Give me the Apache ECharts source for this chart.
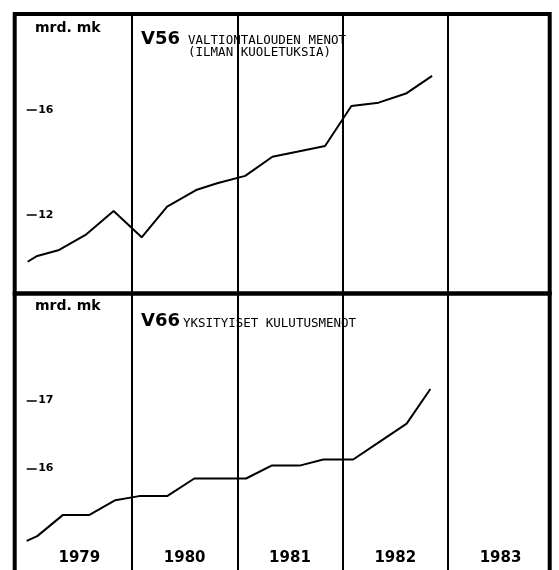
<!DOCTYPE html>
<html>
<head>
<meta charset="utf-8">
<script src="https://cdn.jsdelivr.net/npm/echarts@6/dist/echarts.min.js"></script>
<style>
  html, body { margin: 0; padding: 0; background: #fff; }
  #chart { width: 559px; height: 570px; }
</style>
</head>
<body>
<div id="chart"></div>
<script>
// months counted from the start of 1979
var yearLabels = ['1979', '1980', '1981', '1982', '1983'];
var yearMids = [6, 18, 30, 42, 54];
var yearBreaks = [12, 24, 36, 48];

// V56 valtiontalouden menot, mrd. mk
var monthsV56 = [0.1, 1.2, 3.7, 6.7, 9.9, 13.1, 16.0, 19.3, 21.7, 24.9, 28.0, 30.8, 34.0, 37.0, 40.1, 43.3, 46.2];
var valuesV56 = [10.22, 10.44, 10.67, 11.24, 12.15, 11.15, 12.32, 12.95, 13.21, 13.49, 14.22, 14.41, 14.63, 16.15, 16.28, 16.64, 17.30];
var ticksV56 = [12, 16];

// V66 yksityiset kulutusmenot, mrd. mk
var monthsV66 = [0, 1.2, 4.1, 7.1, 10.1, 12.8, 16.0, 19.1, 22.0, 25.0, 27.9, 31.1, 33.8, 37.2, 40.2, 43.3, 46.0];
var valuesV66 = [14.93, 15.00, 15.31, 15.31, 15.53, 15.59, 15.59, 15.85, 15.85, 15.85, 16.04, 16.04, 16.13, 16.13, 16.39, 16.66, 17.17];
var ticksV66 = [16, 17];

function pairs(xs, ys) {
  return xs.map(function (x, i) { return [x, ys[i]]; });
}

var boldFont = 'DejaVu Sans';

var chart = echarts.init(document.getElementById('chart'));

function yAxisFor(idx, min, max, ticks) {
  return {
    type: 'value',
    gridIndex: idx,
    min: min,
    max: max,
    offset: -9.5,
    axisLine: { show: false },
    splitLine: { show: false },
    axisTick: {
      show: true,
      inside: true,
      length: 10,
      customValues: ticks,
      lineStyle: { color: '#000', width: 1.5 }
    },
    axisLabel: {
      inside: true,
      margin: 14,
      customValues: ticks,
      color: '#000',
      fontFamily: boldFont,
      fontWeight: 'bold',
      fontSize: 11
    }
  };
}

function xAxisFor(idx, showLabels) {
  return {
    type: 'value',
    gridIndex: idx,
    min: -1.37,
    max: 59.6,
    axisLine: { show: false },
    axisTick: { show: false },
    splitLine: { show: false },
    axisLabel: {
      show: showLabels,
      inside: true,
      margin: 14,
      customValues: yearMids,
      color: '#000',
      fontFamily: boldFont,
      fontWeight: 'bold',
      fontSize: 15,
      formatter: function (v) {
        return yearLabels[Math.round((v - 6) / 12)];
      }
    }
  };
}

var yearLines = {
  silent: true,
  symbol: ['none', 'none'],
  label: { show: false },
  lineStyle: { type: 'solid', color: '#000', width: 2 },
  data: yearBreaks.map(function (m) { return { xAxis: m }; })
};

var option = {
  animation: false,
  backgroundColor: '#fff',
  grid: [
    { left: 14.7, right: 9.3, top: 14, height: 279.5, outerBoundsMode: 'none', show: true, borderColor: '#000', borderWidth: 4, backgroundColor: 'transparent' },
    { left: 14.7, right: 9.3, top: 293.5, bottom: -10, outerBoundsMode: 'none', show: true, borderColor: '#000', borderWidth: 4, backgroundColor: 'transparent' }
  ],
  xAxis: [xAxisFor(0, false), xAxisFor(1, true)],
  yAxis: [yAxisFor(0, 9.01, 19.657, ticksV56), yAxisFor(1, 14.353, 18.578, ticksV66)],
  series: [
    {
      name: 'V56',
      type: 'line',
      xAxisIndex: 0,
      yAxisIndex: 0,
      symbol: 'none',
      lineStyle: { color: '#000', width: 2 },
      data: pairs(monthsV56, valuesV56),
      markLine: yearLines
    },
    {
      name: 'V66',
      type: 'line',
      xAxisIndex: 1,
      yAxisIndex: 1,
      symbol: 'none',
      lineStyle: { color: '#000', width: 2 },
      data: pairs(monthsV66, valuesV66),
      markLine: yearLines
    }
  ],
  graphic: [
    { type: 'text', left: 35, top: 21, style: { text: 'mrd. mk', font: 'bold 14px "DejaVu Sans"', fill: '#000' } },
    { type: 'text', left: 141, top: 30, style: { text: 'V56', font: 'bold 18px "DejaVu Sans"', fill: '#000' } },
    { type: 'text', left: 188, top: 34, style: { text: 'VALTIONTALOUDEN MENOT\n(ILMAN KUOLETUKSIA)', font: '12.5px "DejaVu Sans Mono"', lineHeight: 12.5, fill: '#000' } },
    { type: 'text', left: 35, top: 299, style: { text: 'mrd. mk', font: 'bold 14px "DejaVu Sans"', fill: '#000' } },
    { type: 'text', left: 141, top: 312, style: { text: 'V66', font: 'bold 18px "DejaVu Sans"', fill: '#000' } },
    { type: 'text', left: 183, top: 317, style: { text: 'YKSITYISET KULUTUSMENOT', font: '12.5px "DejaVu Sans Mono"', fill: '#000' } }
  ]
};

chart.setOption(option);
</script>
</body>
</html>
